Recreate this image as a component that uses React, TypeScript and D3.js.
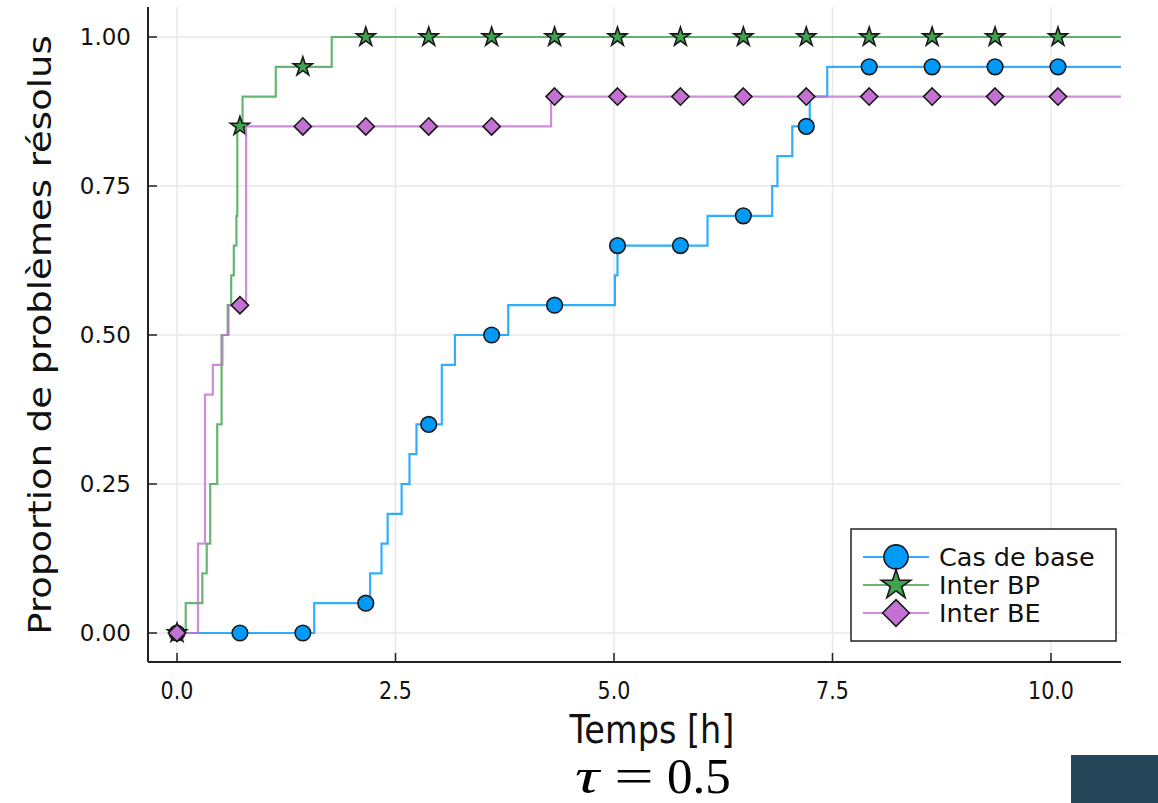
import React from "react";
import * as d3 from "d3";

// Step breakpoints: [time in hours, proportion solved]
const baseSteps: [number, number][] = [
  [0, 0], [1.57, 0.05], [2.21, 0.10], [2.34, 0.15], [2.41, 0.20], [2.57, 0.25],
  [2.66, 0.30], [2.74, 0.35], [3.03, 0.45], [3.18, 0.50], [3.79, 0.55],
  [5.01, 0.60], [5.04, 0.65], [6.07, 0.70], [6.81, 0.75], [6.87, 0.80],
  [7.04, 0.85], [7.24, 0.90], [7.44, 0.95], [10.8, 0.95],
];
const bpSteps: [number, number][] = [
  [0, 0], [0.10, 0.05], [0.29, 0.10], [0.34, 0.15], [0.38, 0.25], [0.46, 0.35],
  [0.51, 0.50], [0.58, 0.55], [0.62, 0.60], [0.65, 0.65], [0.68, 0.70],
  [0.69, 0.85], [0.75, 0.90], [1.13, 0.95], [1.77, 1.0], [10.8, 1.0],
];
const beSteps: [number, number][] = [
  [0, 0], [0.24, 0.15], [0.32, 0.40], [0.41, 0.45], [0.52, 0.50], [0.59, 0.55],
  [0.79, 0.85], [4.28, 0.90], [10.8, 0.90],
];

// Marker positions along time and their values per series
const markerTimes = [0, 0.72, 1.44, 2.16, 2.88, 3.6, 4.32, 5.04, 5.76, 6.48, 7.2, 7.92, 8.64, 9.36, 10.08];
const baseMarkers = [0, 0, 0, 0.05, 0.35, 0.50, 0.55, 0.65, 0.65, 0.70, 0.85, 0.95, 0.95, 0.95, 0.95];
const bpMarkers = [0, 0.85, 0.95, 1, 1, 1, 1, 1, 1, 1, 1, 1, 1, 1, 1];
const beMarkers = [0, 0.55, 0.85, 0.85, 0.85, 0.85, 0.90, 0.90, 0.90, 0.90, 0.90, 0.90, 0.90, 0.90, 0.90];

const seriesNames = ["Cas de base", "Inter BP", "Inter BE"];
const seriesColors = ["#009AFA", "#3EA44E", "#C371D2"];
const seriesShapes = ["circle", "star", "diamond"];

const xTicks = [0, 2.5, 5, 7.5, 10];
const yTicks = [0, 0.25, 0.5, 0.75, 1];

const FONT = "'DejaVu Sans', sans-serif";
const SERIF = "'Liberation Serif', serif";

function Marker({ shape, x, y, color, scale = 1 }: { shape: string; x: number; y: number; color: string; scale?: number }) {
  const stroke = "#1a1a1a";
  if (shape === "circle") {
    return <circle cx={x} cy={y} r={7.8 * scale} fill={color} stroke={stroke} strokeWidth={1.6} />;
  }
  if (shape === "star") {
    const r = 10 * scale;
    const path = d3.symbol(d3.symbolStar, r * r / 0.8908130915292852)();
    return <path d={path || ""} transform={`translate(${x},${y})`} fill={color} stroke={stroke} strokeWidth={1.6} />;
  }
  const h = 8.6 * scale;
  return (
    <path
      d={`M${x},${y - h}L${x + h},${y}L${x},${y + h}L${x - h},${y}Z`}
      fill={color}
      stroke={stroke}
      strokeWidth={1.6}
    />
  );
}

export default function App() {
  const W = 1158;
  const H = 803;
  const x = d3.scaleLinear().domain([0, 10]).range([177, 1051]);
  const y = d3.scaleLinear().domain([0, 1]).range([633, 37]);
  const left = 148;
  const right = 1121;
  const top = 7;
  const bottom = 662;

  const line = d3
    .line<[number, number]>()
    .x((d) => x(d[0]))
    .y((d) => y(d[1]))
    .curve(d3.curveStepAfter);

  const steps = [baseSteps, bpSteps, beSteps];
  const markers = [baseMarkers, bpMarkers, beMarkers];

  const legendRows = [557, 585, 613];

  return (
    <svg width={W} height={H} style={{ display: "block", position: "absolute", left: 0, top: 0 }}>
      <rect x={0} y={0} width={W} height={H} fill="#ffffff" />
      {/* grid */}
      {xTicks.map((t) => (
        <line key={`gx${t}`} x1={x(t)} x2={x(t)} y1={top} y2={bottom} stroke="#e8e8e8" strokeWidth={1.5} />
      ))}
      {yTicks.map((t) => (
        <line key={`gy${t}`} x1={left} x2={right} y1={y(t)} y2={y(t)} stroke="#e8e8e8" strokeWidth={1.5} />
      ))}
      {/* axes */}
      <line x1={left} x2={left} y1={top} y2={bottom} stroke="#222" strokeWidth={2} />
      <line x1={left} x2={right} y1={bottom} y2={bottom} stroke="#222" strokeWidth={2} />
      {xTicks.map((t) => (
        <line key={`tx${t}`} x1={x(t)} x2={x(t)} y1={bottom} y2={bottom - 9} stroke="#222" strokeWidth={1.5} />
      ))}
      {yTicks.map((t) => (
        <line key={`ty${t}`} x1={left} x2={left + 9} y1={y(t)} y2={y(t)} stroke="#222" strokeWidth={1.5} />
      ))}
      {/* tick labels */}
      {xTicks.map((t) => (
        <text
          key={`lx${t}`}
          transform={`translate(${x(t)},${699}) scale(0.86,1)`}
          textAnchor="middle"
          fontFamily={FONT}
          fontSize={24}
          fill="#111"
        >
          {d3.format(".1f")(t)}
        </text>
      ))}
      {yTicks.map((t) => (
        <text
          key={`ly${t}`}
          x={131}
          y={y(t) + 8}
          textAnchor="end"
          fontFamily={FONT}
          fontSize={23}
          fill="#111"
        >
          {d3.format(".2f")(t)}
        </text>
      ))}
      {/* series */}
      {steps.map((s, i) => (
        <g key={`s${i}`}>
          <path d={line(s) || ""} fill="none" stroke={seriesColors[i]} strokeWidth={2.2} strokeOpacity={0.8} />
          {markerTimes.map((t, j) => (
            <Marker key={j} shape={seriesShapes[i]} x={x(t)} y={y(markers[i][j])} color={seriesColors[i]} />
          ))}
        </g>
      ))}
      {/* axis titles */}
      <text
        transform={`translate(${652},${743}) scale(0.86,1)`}
        textAnchor="middle"
        fontFamily={FONT}
        fontSize={39}
        fill="#111"
      >
        Temps [h]
      </text>
      <text
        transform={`translate(${51},${335}) scale(0.86,1) rotate(-90)`}
        textAnchor="middle"
        fontFamily={FONT}
        fontSize={37}
        fill="#111"
      >
        Proportion de problèmes résolus
      </text>
      {/* legend */}
      <rect x={851} y={529} width={265} height={112} fill="#fff" stroke="#222" strokeWidth={1.5} />
      {seriesNames.map((n, i) => (
        <g key={`lg${i}`}>
          <line x1={863} x2={929} y1={legendRows[i]} y2={legendRows[i]} stroke={seriesColors[i]} strokeWidth={2} strokeOpacity={0.8} />
          <Marker shape={seriesShapes[i]} x={896} y={legendRows[i]} color={seriesColors[i]} scale={1.55} />
          <text x={939} y={legendRows[i] + 9} fontFamily={FONT} fontSize={25.5} fill="#111">
            {n}
          </text>
        </g>
      ))}
      {/* caption: τ = 0.5 with math spacing */}
      <g fontFamily={SERIF} fill="#000">
        <text transform="translate(575,793) scale(1.35,1)" fontSize={50} fontStyle="italic">τ</text>
        <text transform="translate(634,793) scale(1.4,1)" fontSize={50} textAnchor="middle">=</text>
        <text x={667} y={793} fontSize={51}>0.5</text>
      </g>
      <rect x={1071} y={755} width={87} height={48} fill="#26475A" />
    </svg>
  );
}
